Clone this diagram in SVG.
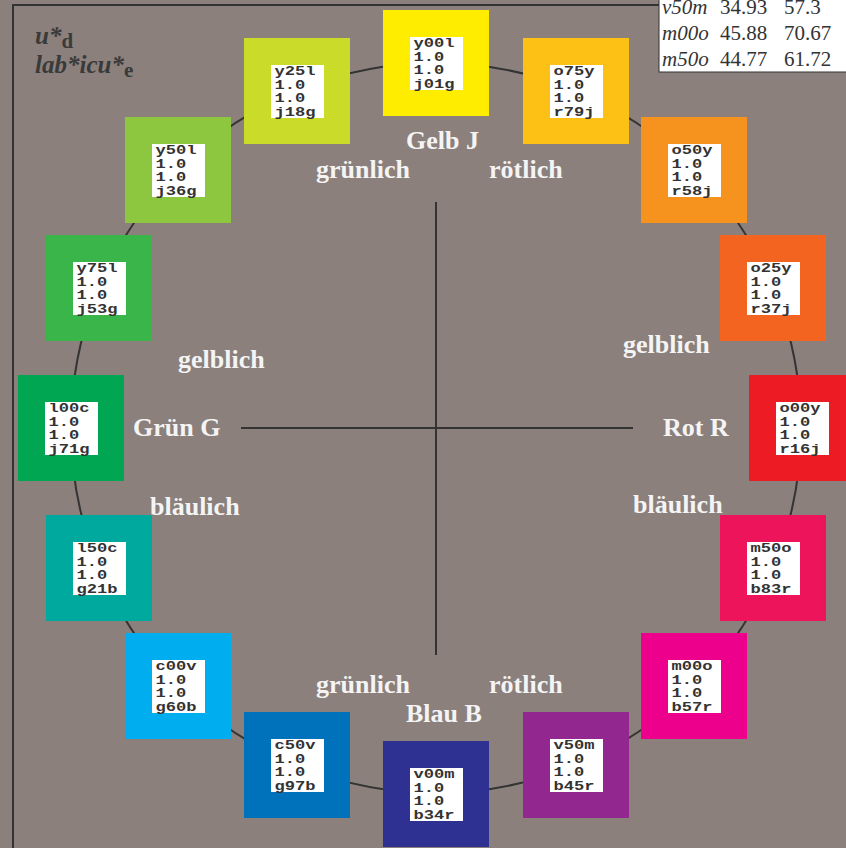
<svg xmlns="http://www.w3.org/2000/svg" width="846" height="848" viewBox="0 0 846 848">
<style>
.bg{fill:#8b807c}
.frame{fill:none;stroke:#333;stroke-width:2}
.circ{fill:none;stroke:#333;stroke-width:2}
.axis{stroke:#333;stroke-width:2}
.inner{fill:#fff}
.code{font-family:"Liberation Mono","Courier New",monospace;font-weight:bold;font-size:13.5px;fill:#333}
.lbl{font-family:"Liberation Serif","Times New Roman",serif;font-weight:bold;font-size:26px;fill:#f4f4f4}
.title{font-family:"Liberation Serif","Times New Roman",serif;font-weight:bold;font-style:italic;font-size:25px;fill:#3a3a3a}
.sub{font-style:normal;font-size:21px}
.tab{font-family:"Liberation Serif","Times New Roman",serif;font-size:21px;fill:#333}
.it{font-style:italic}
</style>
<defs>
<g id="lab"><rect class="inner" x="-26" y="-26" width="53" height="53"/></g>
</defs>
<rect class="bg" x="0" y="0" width="846" height="848"/>
<path class="frame" d="M13,848 V5 H659"/>
<g id="connectors">
<circle class="circ" cx="436" cy="428" r="365"/>
<line class="axis" x1="436" y1="202" x2="436" y2="655"/>
<line class="axis" x1="241" y1="428" x2="633" y2="428"/>
</g>
<g id="title">
<text class="title" x="35" y="44">u*<tspan class="sub" dy="4">d</tspan></text>
<text class="title" x="35" y="73">lab*icu*<tspan class="sub" dy="4">e</tspan></text>
</g>
<g id="table">
<rect x="659" y="-1" width="190" height="73" fill="#fff" stroke="#333" stroke-width="1"/>
<text class="tab" y="14"><tspan class="it" x="662">v50m</tspan><tspan x="720">34.93</tspan><tspan x="784">57.3</tspan></text>
<text class="tab" y="40"><tspan class="it" x="662">m00o</tspan><tspan x="720">45.88</tspan><tspan x="784">70.67</tspan></text>
<text class="tab" y="66"><tspan class="it" x="662">m50o</tspan><tspan x="720">44.77</tspan><tspan x="784">61.72</tspan></text>
</g>
<g id="labels">
<text class="lbl" x="406" y="149">Gelb J</text>
<text class="lbl" x="316" y="178">grünlich</text>
<text class="lbl" x="489" y="178">rötlich</text>
<text class="lbl" x="178" y="368">gelblich</text>
<text class="lbl" x="623" y="353">gelblich</text>
<text class="lbl" x="133" y="436">Grün G</text>
<text class="lbl" x="663" y="436">Rot R</text>
<text class="lbl" x="150" y="515">bläulich</text>
<text class="lbl" x="633" y="513">bläulich</text>
<text class="lbl" x="316" y="693">grünlich</text>
<text class="lbl" x="489" y="693">rötlich</text>
<text class="lbl" x="406" y="722">Blau B</text>
</g>
<g id="n-y00l" transform="translate(436,63)"><rect x="-53" y="-53" width="106" height="106" fill="#ffed00"/><use href="#lab"/><text class="code"><tspan x="-22.5" y="-15.6" textLength="41" lengthAdjust="spacingAndGlyphs">y00l</tspan><tspan x="-22.5" y="-2.2" textLength="30.75" lengthAdjust="spacingAndGlyphs">1.0</tspan><tspan x="-22.5" y="11.2" textLength="30.75" lengthAdjust="spacingAndGlyphs">1.0</tspan><tspan x="-22.5" y="24.6" textLength="41" lengthAdjust="spacingAndGlyphs">j01g</tspan></text></g>
<g id="n-o75y" transform="translate(576,91)"><rect x="-53" y="-53" width="106" height="106" fill="#fdc014"/><use href="#lab"/><text class="code"><tspan x="-22.5" y="-15.6" textLength="41" lengthAdjust="spacingAndGlyphs">o75y</tspan><tspan x="-22.5" y="-2.2" textLength="30.75" lengthAdjust="spacingAndGlyphs">1.0</tspan><tspan x="-22.5" y="11.2" textLength="30.75" lengthAdjust="spacingAndGlyphs">1.0</tspan><tspan x="-22.5" y="24.6" textLength="41" lengthAdjust="spacingAndGlyphs">r79j</tspan></text></g>
<g id="n-o50y" transform="translate(694,170)"><rect x="-53" y="-53" width="106" height="106" fill="#f6921e"/><use href="#lab"/><text class="code"><tspan x="-22.5" y="-15.6" textLength="41" lengthAdjust="spacingAndGlyphs">o50y</tspan><tspan x="-22.5" y="-2.2" textLength="30.75" lengthAdjust="spacingAndGlyphs">1.0</tspan><tspan x="-22.5" y="11.2" textLength="30.75" lengthAdjust="spacingAndGlyphs">1.0</tspan><tspan x="-22.5" y="24.6" textLength="41" lengthAdjust="spacingAndGlyphs">r58j</tspan></text></g>
<g id="n-o25y" transform="translate(773,288)"><rect x="-53" y="-53" width="106" height="106" fill="#f36421"/><use href="#lab"/><text class="code"><tspan x="-22.5" y="-15.6" textLength="41" lengthAdjust="spacingAndGlyphs">o25y</tspan><tspan x="-22.5" y="-2.2" textLength="30.75" lengthAdjust="spacingAndGlyphs">1.0</tspan><tspan x="-22.5" y="11.2" textLength="30.75" lengthAdjust="spacingAndGlyphs">1.0</tspan><tspan x="-22.5" y="24.6" textLength="41" lengthAdjust="spacingAndGlyphs">r37j</tspan></text></g>
<g id="n-o00y" transform="translate(802,428)"><rect x="-53" y="-53" width="106" height="106" fill="#ed1c24"/><use href="#lab"/><text class="code"><tspan x="-22.5" y="-15.6" textLength="41" lengthAdjust="spacingAndGlyphs">o00y</tspan><tspan x="-22.5" y="-2.2" textLength="30.75" lengthAdjust="spacingAndGlyphs">1.0</tspan><tspan x="-22.5" y="11.2" textLength="30.75" lengthAdjust="spacingAndGlyphs">1.0</tspan><tspan x="-22.5" y="24.6" textLength="41" lengthAdjust="spacingAndGlyphs">r16j</tspan></text></g>
<g id="n-m50o" transform="translate(773,568)"><rect x="-53" y="-53" width="106" height="106" fill="#ed145b"/><use href="#lab"/><text class="code"><tspan x="-22.5" y="-15.6" textLength="41" lengthAdjust="spacingAndGlyphs">m50o</tspan><tspan x="-22.5" y="-2.2" textLength="30.75" lengthAdjust="spacingAndGlyphs">1.0</tspan><tspan x="-22.5" y="11.2" textLength="30.75" lengthAdjust="spacingAndGlyphs">1.0</tspan><tspan x="-22.5" y="24.6" textLength="41" lengthAdjust="spacingAndGlyphs">b83r</tspan></text></g>
<g id="n-m00o" transform="translate(694,686)"><rect x="-53" y="-53" width="106" height="106" fill="#ec008c"/><use href="#lab"/><text class="code"><tspan x="-22.5" y="-15.6" textLength="41" lengthAdjust="spacingAndGlyphs">m00o</tspan><tspan x="-22.5" y="-2.2" textLength="30.75" lengthAdjust="spacingAndGlyphs">1.0</tspan><tspan x="-22.5" y="11.2" textLength="30.75" lengthAdjust="spacingAndGlyphs">1.0</tspan><tspan x="-22.5" y="24.6" textLength="41" lengthAdjust="spacingAndGlyphs">b57r</tspan></text></g>
<g id="n-v50m" transform="translate(576,765)"><rect x="-53" y="-53" width="106" height="106" fill="#92278f"/><use href="#lab"/><text class="code"><tspan x="-22.5" y="-15.6" textLength="41" lengthAdjust="spacingAndGlyphs">v50m</tspan><tspan x="-22.5" y="-2.2" textLength="30.75" lengthAdjust="spacingAndGlyphs">1.0</tspan><tspan x="-22.5" y="11.2" textLength="30.75" lengthAdjust="spacingAndGlyphs">1.0</tspan><tspan x="-22.5" y="24.6" textLength="41" lengthAdjust="spacingAndGlyphs">b45r</tspan></text></g>
<g id="n-v00m" transform="translate(436,794)"><rect x="-53" y="-53" width="106" height="106" fill="#2e3192"/><use href="#lab"/><text class="code"><tspan x="-22.5" y="-15.6" textLength="41" lengthAdjust="spacingAndGlyphs">v00m</tspan><tspan x="-22.5" y="-2.2" textLength="30.75" lengthAdjust="spacingAndGlyphs">1.0</tspan><tspan x="-22.5" y="11.2" textLength="30.75" lengthAdjust="spacingAndGlyphs">1.0</tspan><tspan x="-22.5" y="24.6" textLength="41" lengthAdjust="spacingAndGlyphs">b34r</tspan></text></g>
<g id="n-c50v" transform="translate(297,765)"><rect x="-53" y="-53" width="106" height="106" fill="#0072bc"/><use href="#lab"/><text class="code"><tspan x="-22.5" y="-15.6" textLength="41" lengthAdjust="spacingAndGlyphs">c50v</tspan><tspan x="-22.5" y="-2.2" textLength="30.75" lengthAdjust="spacingAndGlyphs">1.0</tspan><tspan x="-22.5" y="11.2" textLength="30.75" lengthAdjust="spacingAndGlyphs">1.0</tspan><tspan x="-22.5" y="24.6" textLength="41" lengthAdjust="spacingAndGlyphs">g97b</tspan></text></g>
<g id="n-c00v" transform="translate(178,686)"><rect x="-53" y="-53" width="106" height="106" fill="#00aeef"/><use href="#lab"/><text class="code"><tspan x="-22.5" y="-15.6" textLength="41" lengthAdjust="spacingAndGlyphs">c00v</tspan><tspan x="-22.5" y="-2.2" textLength="30.75" lengthAdjust="spacingAndGlyphs">1.0</tspan><tspan x="-22.5" y="11.2" textLength="30.75" lengthAdjust="spacingAndGlyphs">1.0</tspan><tspan x="-22.5" y="24.6" textLength="41" lengthAdjust="spacingAndGlyphs">g60b</tspan></text></g>
<g id="n-l50c" transform="translate(99,568)"><rect x="-53" y="-53" width="106" height="106" fill="#00a99d"/><use href="#lab"/><text class="code"><tspan x="-22.5" y="-15.6" textLength="41" lengthAdjust="spacingAndGlyphs">l50c</tspan><tspan x="-22.5" y="-2.2" textLength="30.75" lengthAdjust="spacingAndGlyphs">1.0</tspan><tspan x="-22.5" y="11.2" textLength="30.75" lengthAdjust="spacingAndGlyphs">1.0</tspan><tspan x="-22.5" y="24.6" textLength="41" lengthAdjust="spacingAndGlyphs">g21b</tspan></text></g>
<g id="n-l00c" transform="translate(71,428)"><rect x="-53" y="-53" width="106" height="106" fill="#00a651"/><use href="#lab"/><text class="code"><tspan x="-22.5" y="-15.6" textLength="41" lengthAdjust="spacingAndGlyphs">l00c</tspan><tspan x="-22.5" y="-2.2" textLength="30.75" lengthAdjust="spacingAndGlyphs">1.0</tspan><tspan x="-22.5" y="11.2" textLength="30.75" lengthAdjust="spacingAndGlyphs">1.0</tspan><tspan x="-22.5" y="24.6" textLength="41" lengthAdjust="spacingAndGlyphs">j71g</tspan></text></g>
<g id="n-y75l" transform="translate(99,288)"><rect x="-53" y="-53" width="106" height="106" fill="#39b54a"/><use href="#lab"/><text class="code"><tspan x="-22.5" y="-15.6" textLength="41" lengthAdjust="spacingAndGlyphs">y75l</tspan><tspan x="-22.5" y="-2.2" textLength="30.75" lengthAdjust="spacingAndGlyphs">1.0</tspan><tspan x="-22.5" y="11.2" textLength="30.75" lengthAdjust="spacingAndGlyphs">1.0</tspan><tspan x="-22.5" y="24.6" textLength="41" lengthAdjust="spacingAndGlyphs">j53g</tspan></text></g>
<g id="n-y50l" transform="translate(178,170)"><rect x="-53" y="-53" width="106" height="106" fill="#8dc63f"/><use href="#lab"/><text class="code"><tspan x="-22.5" y="-15.6" textLength="41" lengthAdjust="spacingAndGlyphs">y50l</tspan><tspan x="-22.5" y="-2.2" textLength="30.75" lengthAdjust="spacingAndGlyphs">1.0</tspan><tspan x="-22.5" y="11.2" textLength="30.75" lengthAdjust="spacingAndGlyphs">1.0</tspan><tspan x="-22.5" y="24.6" textLength="41" lengthAdjust="spacingAndGlyphs">j36g</tspan></text></g>
<g id="n-y25l" transform="translate(297,91)"><rect x="-53" y="-53" width="106" height="106" fill="#cbdb2a"/><use href="#lab"/><text class="code"><tspan x="-22.5" y="-15.6" textLength="41" lengthAdjust="spacingAndGlyphs">y25l</tspan><tspan x="-22.5" y="-2.2" textLength="30.75" lengthAdjust="spacingAndGlyphs">1.0</tspan><tspan x="-22.5" y="11.2" textLength="30.75" lengthAdjust="spacingAndGlyphs">1.0</tspan><tspan x="-22.5" y="24.6" textLength="41" lengthAdjust="spacingAndGlyphs">j18g</tspan></text></g>
</svg>
